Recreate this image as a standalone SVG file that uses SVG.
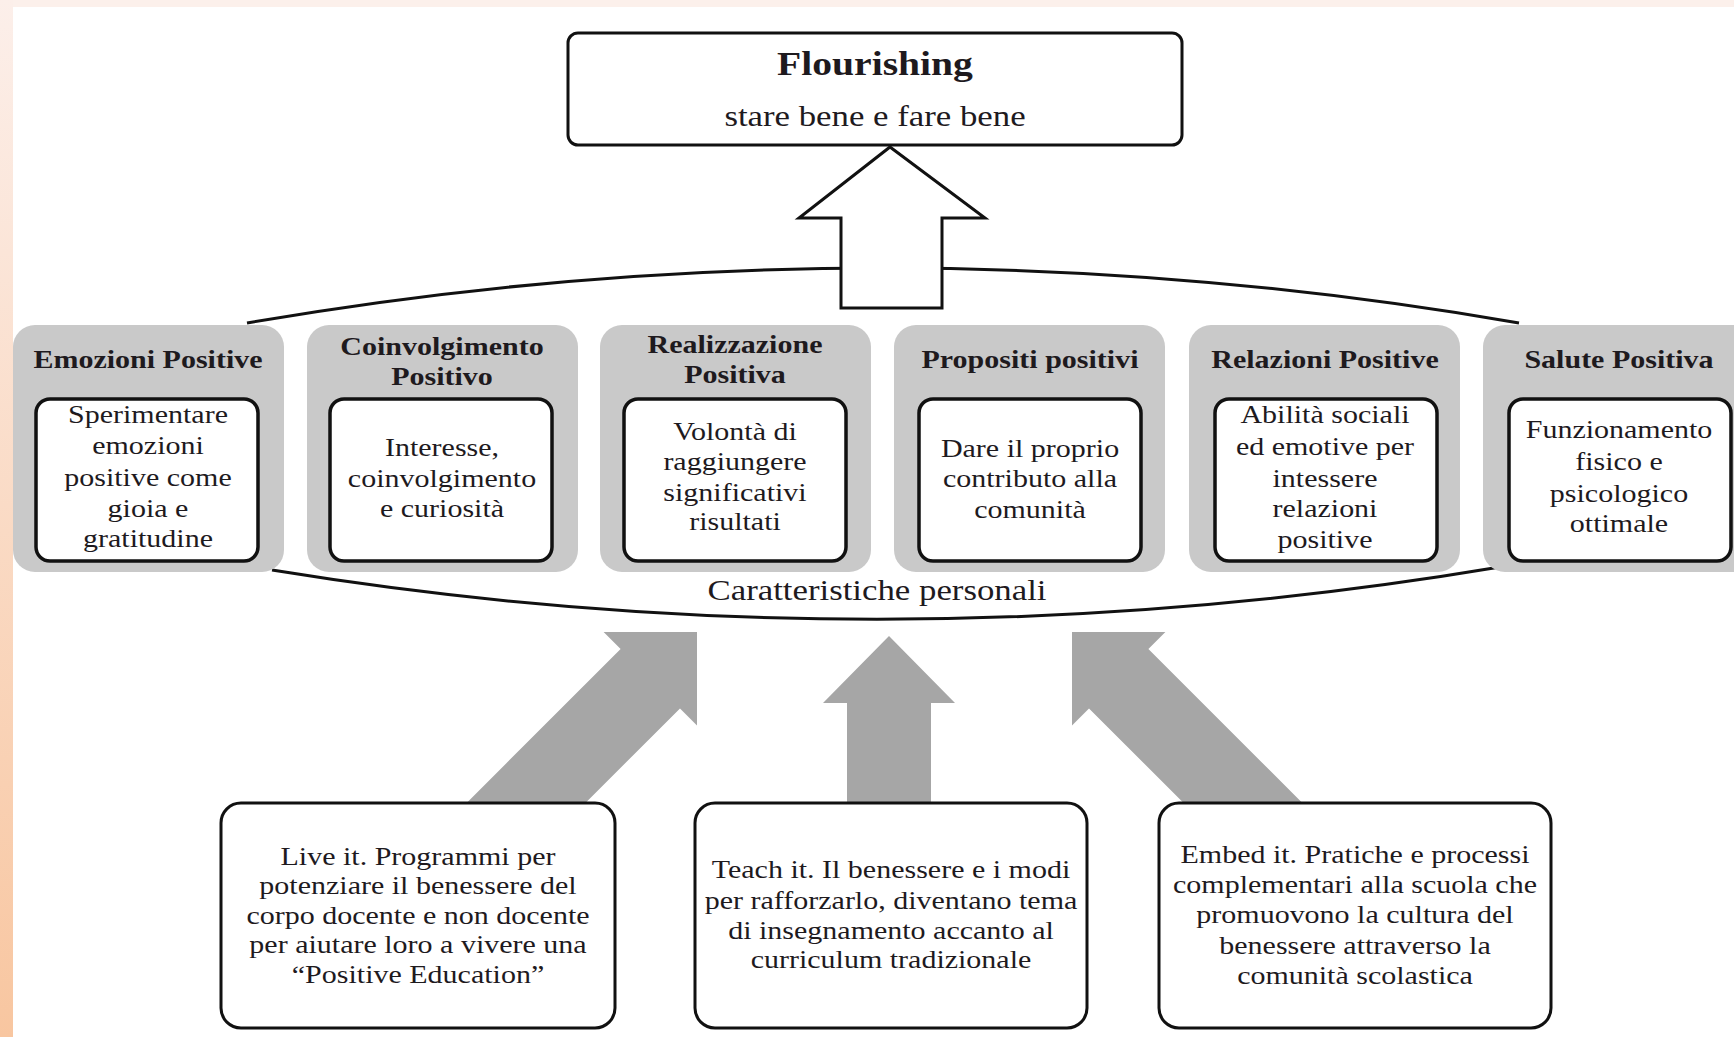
<svg xmlns="http://www.w3.org/2000/svg" width="1734" height="1037" viewBox="0 0 1734 1037">
<defs>
<linearGradient id="edge" x1="0" y1="0" x2="0" y2="1">
<stop offset="0" stop-color="#FCEFEA"/>
<stop offset="1" stop-color="#F8C6A0"/>
</linearGradient>
<style>
.t{font-family:"Liberation Serif","Times New Roman",serif;fill:#1e1a1e;text-anchor:middle}
.title{font-weight:bold;font-size:25px}
.body{font-size:25px}
.gray{fill:#C9C9C9}
.inner{fill:#fff;stroke:#111;stroke-width:3.5}
.box{fill:#fff;stroke:#111;stroke-width:3}
.curve{fill:none;stroke:#111;stroke-width:3}
.garrow{fill:#A6A6A6}
</style>
</defs>

<g id="background">
<rect width="1734" height="1037" fill="#fff"/>
<rect x="0" y="0" width="1734" height="7" fill="#FCF0EB"/>
<rect x="0" y="0" width="13" height="1037" fill="url(#edge)"/>
</g>

<g id="connectors">
<path class="curve" d="M247,323 Q883,213 1519,323"/>
<path class="curve" d="M272,570 Q886,670 1500,567"/>
<path d="M890,147 L985,218 L942,218 L942,308 L841,308 L841,218 L799,218 Z" fill="#fff" stroke="#111" stroke-width="3"/>
<path class="garrow" d="M697,632 L697,725.4 L680,708.4 L582.4,806 L463.6,806 L620.6,649 L603.6,632 Z"/>
<path class="garrow" d="M889,636 L955,703 L931,703 L931,808 L847,808 L847,703 L823,703 Z"/>
<path class="garrow" d="M1072,632 L1165.4,632 L1148.4,649 L1305.4,806 L1186.6,806 L1089,708.4 L1072,725.4 Z"/>
</g>

<g id="flourishing">
<rect class="box" x="568" y="33" width="614" height="112" rx="10"/>
<g transform="translate(875,0) scale(1.2,1)">
<text class="t" style="font-weight:bold;font-size:33px" y="75">Flourishing</text>
<text class="t" style="font-size:29px" y="126">stare bene e fare bene</text>
</g>
</g>

<g id="emozioni">
<rect class="gray" x="13" y="325" width="271" height="247" rx="22"/>
<rect class="inner" x="36" y="399" width="222" height="162" rx="14"/>
<g transform="translate(148,0) scale(1.2,1)">
<text class="t title" y="368">Emozioni Positive</text>
<text class="t body"><tspan x="0" y="423">Sperimentare</tspan><tspan x="0" y="454">emozioni</tspan><tspan x="0" y="486">positive come</tspan><tspan x="0" y="517">gioia e</tspan><tspan x="0" y="547">gratitudine</tspan></text>
</g>
</g>

<g id="coinvolgimento">
<rect class="gray" x="307" y="325" width="271" height="247" rx="22"/>
<rect class="inner" x="330" y="399" width="222" height="162" rx="14"/>
<g transform="translate(442,0) scale(1.2,1)">
<text class="t title"><tspan x="0" y="355">Coinvolgimento</tspan><tspan x="0" y="385">Positivo</tspan></text>
<text class="t body"><tspan x="0" y="456">Interesse,</tspan><tspan x="0" y="487">coinvolgimento</tspan><tspan x="0" y="517">e curiosità</tspan></text>
</g>
</g>

<g id="realizzazione">
<rect class="gray" x="600" y="325" width="271" height="247" rx="22"/>
<rect class="inner" x="624" y="399" width="222" height="162" rx="14"/>
<g transform="translate(735,0) scale(1.2,1)">
<text class="t title"><tspan x="0" y="353">Realizzazione</tspan><tspan x="0" y="383">Positiva</tspan></text>
<text class="t body"><tspan x="0" y="440">Volontà di</tspan><tspan x="0" y="470">raggiungere</tspan><tspan x="0" y="501">significativi</tspan><tspan x="0" y="530">risultati</tspan></text>
</g>
</g>

<g id="propositi">
<rect class="gray" x="894" y="325" width="271" height="247" rx="22"/>
<rect class="inner" x="919" y="399" width="222" height="162" rx="14"/>
<g transform="translate(1030,0) scale(1.2,1)">
<text class="t title" y="368">Propositi positivi</text>
<text class="t body"><tspan x="0" y="457">Dare il proprio</tspan><tspan x="0" y="487">contributo alla</tspan><tspan x="0" y="518">comunità</tspan></text>
</g>
</g>

<g id="relazioni">
<rect class="gray" x="1189" y="325" width="271" height="247" rx="22"/>
<rect class="inner" x="1215" y="399" width="222" height="162" rx="14"/>
<g transform="translate(1325,0) scale(1.2,1)">
<text class="t title" y="368">Relazioni Positive</text>
<text class="t body"><tspan x="0" y="423">Abilità sociali</tspan><tspan x="0" y="455">ed emotive per</tspan><tspan x="0" y="487">intessere</tspan><tspan x="0" y="517">relazioni</tspan><tspan x="0" y="548">positive</tspan></text>
</g>
</g>

<g id="salute">
<rect class="gray" x="1483" y="325" width="271" height="247" rx="22"/>
<rect class="inner" x="1509" y="399" width="222" height="162" rx="14"/>
<g transform="translate(1619,0) scale(1.2,1)">
<text class="t title" y="368">Salute Positiva</text>
<text class="t body"><tspan x="0" y="438">Funzionamento</tspan><tspan x="0" y="470">fisico e</tspan><tspan x="0" y="502">psicologico</tspan><tspan x="0" y="532">ottimale</tspan></text>
</g>
</g>

<g id="caratteristiche">
<g transform="translate(877,0) scale(1.2,1)">
<text class="t" style="font-size:29px" y="600">Caratteristiche personali</text>
</g>
</g>

<g id="live-it">
<rect class="box" x="221" y="803" width="394" height="225" rx="20"/>
<g transform="translate(418,0) scale(1.2,1)">
<text class="t body"><tspan x="0" y="865">Live it. Programmi per</tspan><tspan x="0" y="894">potenziare il benessere del</tspan><tspan x="0" y="924">corpo docente e non docente</tspan><tspan x="0" y="953">per aiutare loro a vivere una</tspan><tspan x="0" y="983">“Positive Education”</tspan></text>
</g>
</g>

<g id="teach-it">
<rect class="box" x="695" y="803" width="392" height="225" rx="20"/>
<g transform="translate(891,0) scale(1.2,1)">
<text class="t body"><tspan x="0" y="878">Teach it. Il benessere e i modi</tspan><tspan x="0" y="909">per rafforzarlo, diventano tema</tspan><tspan x="0" y="939">di insegnamento accanto al</tspan><tspan x="0" y="968">curriculum tradizionale</tspan></text>
</g>
</g>

<g id="embed-it">
<rect class="box" x="1159" y="803" width="392" height="225" rx="20"/>
<g transform="translate(1355,0) scale(1.2,1)">
<text class="t body"><tspan x="0" y="863">Embed it. Pratiche e processi</tspan><tspan x="0" y="893">complementari alla scuola che</tspan><tspan x="0" y="923">promuovono la cultura del</tspan><tspan x="0" y="954">benessere attraverso la</tspan><tspan x="0" y="984">comunità scolastica</tspan></text>
</g>
</g>
</svg>
